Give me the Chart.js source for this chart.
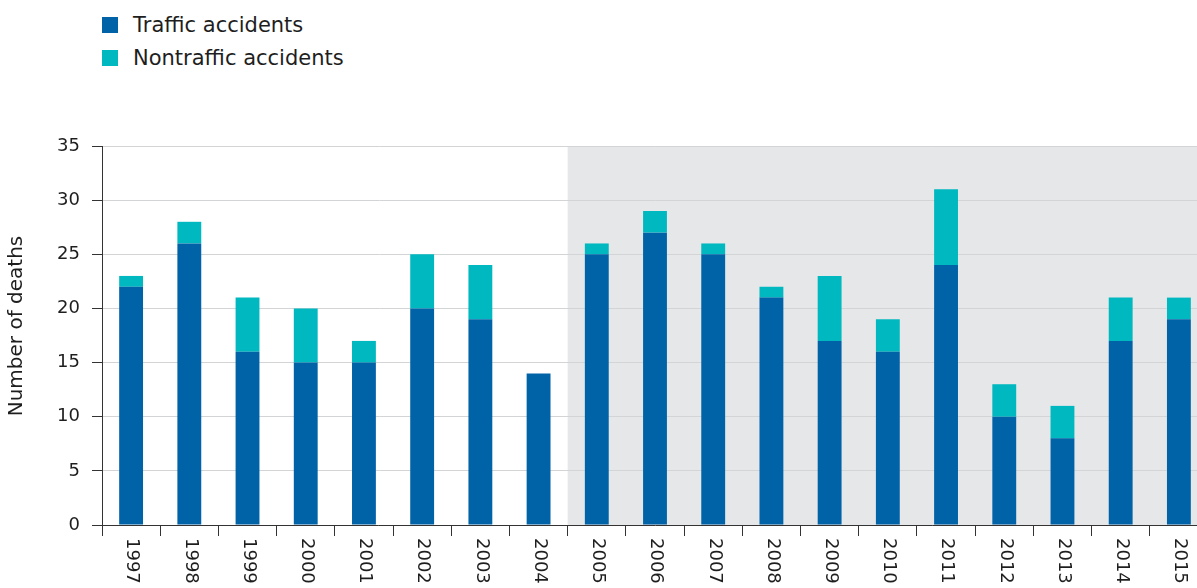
<!DOCTYPE html>
<html>
<head>
<meta charset="utf-8">
<script src="https://cdn.jsdelivr.net/npm/chart.js@4"></script>
<style>
  html, body { margin: 0; padding: 0; background: #fff; overflow: hidden; }
  #wrap { position: relative; width: 1197px; height: 588px; overflow: hidden; }
  #chart { position: absolute; left: 0; top: 0; }
  .legend { position: absolute; left: 102px; top: 8px; font-family: "DejaVu Sans", sans-serif; font-size: 21px; color: #1e1e1e; }
  .legend div { display: flex; align-items: center; height: 33px; }
  .legend span.box { width: 16px; height: 16px; margin-right: 15px; display: inline-block; }
</style>
</head>
<body>
<div id="wrap">
  <div class="legend" id="legend"></div>
  <canvas id="chart" width="1210" height="588"></canvas>
</div>
<script>
const years = ["1997","1998","1999","2000","2001","2002","2003","2004","2005","2006",
               "2007","2008","2009","2010","2011","2012","2013","2014","2015"];
const traffic    = [22, 26, 16, 15, 15, 20, 19, 14, 25, 27, 25, 21, 17, 16, 24, 10, 8, 17, 19];
const nontraffic = [ 1,  2,  5,  5,  2,  5,  5,  0,  1,  2,  1,  1,  6,  3,  7,  3, 3,  4,  2];
const yTicks = [0, 5, 10, 15, 20, 25, 30, 35];
const shadeFrom = "2005";
const yTitle = "Number of deaths";

const seriesNames  = ["Traffic accidents", "Nontraffic accidents"];
const seriesColors = ["#0063a7", "#00b8bf"];

// legend on the page, one row per series
const legendEl = document.getElementById("legend");
seriesNames.forEach((name, i) => {
  const row = document.createElement("div");
  const box = document.createElement("span");
  box.className = "box";
  box.style.background = seriesColors[i];
  row.appendChild(box);
  row.appendChild(document.createTextNode(name));
  legendEl.appendChild(row);
});

const font = "DejaVu Sans";
const ink = "#1e1e1e";

/* grey band behind the later years */
const shadePlugin = {
  id: "shade",
  beforeDraw(chart){
    const x = chart.scales.x, a = chart.chartArea, ctx = chart.ctx;
    const i = years.indexOf(shadeFrom);
    const left = (x.getPixelForValue(i - 1) + x.getPixelForValue(i)) / 2;
    ctx.save();
    ctx.fillStyle = "#e6e7e8";
    ctx.fillRect(left, a.top, a.right - left, a.bottom - a.top);
    ctx.restore();
  }
};

/* year labels turned clockwise (reading downwards) + axis title */
const textPlugin = {
  id: "texts",
  afterDraw(chart){
    const x = chart.scales.x, a = chart.chartArea, ctx = chart.ctx;
    ctx.save();
    ctx.fillStyle = ink;
    ctx.font = "18px " + font;
    ctx.textBaseline = "middle";
    ctx.textAlign = "left";
    years.forEach((y, i) => {
      ctx.save();
      ctx.translate(x.getPixelForValue(i) + 1, a.bottom + 13);
      ctx.rotate(Math.PI / 2);
      ctx.fillText(y, 0, 0);
      ctx.restore();
    });
    // y title sits a little above the middle of the axis
    ctx.font = "20px " + font;
    ctx.translate(17, 326);
    ctx.rotate(-Math.PI / 2);
    ctx.textAlign = "center";
    ctx.fillText(yTitle, 0, 0);
    ctx.restore();
  }
};

new Chart(document.getElementById("chart"), {
  type: "bar",
  data: {
    labels: years,
    datasets: [
      { label: seriesNames[0], data: traffic, backgroundColor: seriesColors[0], borderWidth: 0 },
      { label: seriesNames[1], data: nontraffic, backgroundColor: seriesColors[1], borderWidth: 0 }
    ]
  },
  options: {
    responsive: false,
    animation: false,
    devicePixelRatio: 1,
    layout: { padding: { top: 146, left: 0, right: 2, bottom: 52 } },
    datasets: { bar: { categoryPercentage: 1, barPercentage: 0.41 } },
    plugins: { legend: { display: false }, tooltip: { enabled: false } },
    scales: {
      x: {
        stacked: true,
        grid: { drawOnChartArea: false, tickLength: 11, tickColor: "#333", offset: true },
        border: { color: "#333", width: 1 },
        ticks: { display: false }
      },
      y: {
        stacked: true,
        min: 0, max: 35,
        afterBuildTicks(scale){ scale.ticks = yTicks.map(v => ({ value: v })); },
        afterFit(scale){ scale.width = 102; },
        grid: { color: "#d3d4d5", tickColor: "#333", tickLength: 10 },
        border: { color: "#333", width: 1 },
        ticks: { color: ink, font: { family: font, size: 18 }, padding: 12 }
      }
    }
  },
  plugins: [shadePlugin, textPlugin]
});
</script>
</body>
</html>
